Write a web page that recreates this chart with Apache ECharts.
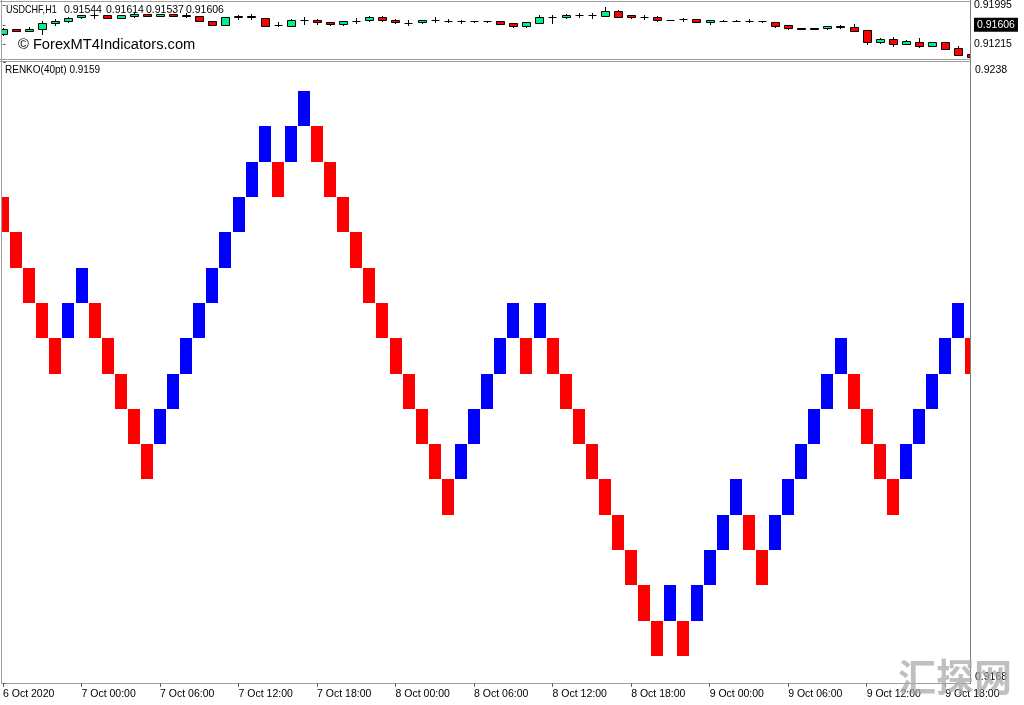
<!DOCTYPE html>
<html><head><meta charset="utf-8">
<script src="https://cdn.jsdelivr.net/npm/echarts@6/dist/echarts.min.js"></script>
<style>html,body{margin:0;padding:0;background:#fff}#c{width:1024px;height:705px}</style>
</head><body><div id="c"></div>
<script>
// ---- data ----
const symbolTitle = 'USDCHF,H1';
const titleOHLC = ['0.91544', '0.91614', '0.91537', '0.91606'];
const indicatorTitle = 'RENKO(40pt) 0.9159';
const copyrightText = '\u00A9 ForexMT4Indicators.com';
const watermarkText = '\u6C47\u63A2\u7F51';

const tickBars = [0, 6, 12, 18, 24, 30, 36, 42, 48, 54, 60, 66, 72];
const tickLabels = ['6 Oct 2020', '7 Oct 00:00', '7 Oct 06:00', '7 Oct 12:00', '7 Oct 18:00',
  '8 Oct 00:00', '8 Oct 06:00', '8 Oct 12:00', '8 Oct 18:00', '9 Oct 00:00',
  '9 Oct 06:00', '9 Oct 12:00', '9 Oct 18:00'];

const priceLabels = [0.91995, 0.91215];
const lastPrice = 0.91606;
const renkoLabels = [0.9238, 0.9168];
const brickSize = 0.0004;

const candleOpen = [0.91413,0.91512,0.91487,0.91526,0.91637,0.91677,0.91765,0.91796,0.91796,0.91751,
  0.91784,0.91824,0.91790,0.91824,0.91810,0.91777,0.91677,0.91612,0.91757,0.91790,
  0.91745,0.91612,0.91592,0.91705,0.91705,0.91665,0.91625,0.91691,0.91705,0.91771,
  0.91705,0.91651,0.91665,0.91705,0.91691,0.91677,0.91677,0.91677,0.91677,0.91637,
  0.91586,0.91651,0.91771,0.91757,0.91810,0.91810,0.91784,0.91876,0.91796,0.91771,
  0.91771,0.91705,0.91717,0.91717,0.91665,0.91691,0.91691,0.91691,0.91677,0.91665,
  0.91598,0.91532,0.91532,0.91532,0.91572,0.91558,0.91493,0.91254,0.91320,0.91228,
  0.91268,0.91189,0.91254,0.91135,0.91016];
const candleClose = [0.91522,0.91487,0.91526,0.91651,0.91677,0.91745,0.91796,0.91794,0.91751,0.91804,
  0.91824,0.91790,0.91824,0.91784,0.91777,0.91691,0.91606,0.91757,0.91784,0.91757,
  0.91592,0.91608,0.91711,0.91703,0.91665,0.91625,0.91677,0.91689,0.91771,0.91705,
  0.91665,0.91649,0.91705,0.91703,0.91689,0.91675,0.91675,0.91675,0.91625,0.91586,
  0.91665,0.91771,0.91769,0.91810,0.91808,0.91808,0.91876,0.91771,0.91757,0.91769,
  0.91705,0.91703,0.91715,0.91665,0.91705,0.91689,0.91689,0.91689,0.91675,0.91586,
  0.91532,0.91530,0.91530,0.91572,0.91570,0.91479,0.91254,0.91320,0.91215,0.91280,
  0.91175,0.91254,0.91121,0.91002,0.90963];
const candleLow = [0.91393,0.91473,0.91479,0.91427,0.91612,0.91657,0.91745,0.91745,0.91745,0.91745,
  0.91771,0.91784,0.91784,0.91777,0.91765,0.91685,0.91598,0.91606,0.91717,0.91725,
  0.91572,0.91572,0.91572,0.91625,0.91625,0.91612,0.91612,0.91637,0.91677,0.91691,
  0.91651,0.91598,0.91651,0.91665,0.91665,0.91651,0.91671,0.91671,0.91618,0.91558,
  0.91558,0.91645,0.91651,0.91745,0.91757,0.91745,0.91777,0.91765,0.91745,0.91717,
  0.91691,0.91697,0.91691,0.91657,0.91625,0.91685,0.91685,0.91665,0.91671,0.91558,
  0.91526,0.91526,0.91526,0.91526,0.91532,0.91473,0.91228,0.91240,0.91189,0.91215,
  0.91161,0.91169,0.91109,0.90990,0.90951];
const candleHigh = [0.91532,0.91522,0.91562,0.91677,0.91725,0.91757,0.91810,0.91844,0.91804,0.91810,
  0.91856,0.91830,0.91830,0.91830,0.91836,0.91784,0.91685,0.91765,0.91810,0.91824,
  0.91751,0.91671,0.91725,0.91771,0.91731,0.91671,0.91685,0.91745,0.91790,0.91777,
  0.91717,0.91705,0.91711,0.91757,0.91725,0.91705,0.91683,0.91683,0.91685,0.91651,
  0.91671,0.91796,0.91810,0.91824,0.91850,0.91850,0.91970,0.91904,0.91810,0.91810,
  0.91784,0.91711,0.91745,0.91725,0.91711,0.91697,0.91697,0.91725,0.91683,0.91671,
  0.91606,0.91538,0.91538,0.91578,0.91612,0.91625,0.91499,0.91334,0.91360,0.91294,
  0.91348,0.91260,0.91260,0.91175,0.91056];

const renkoOpen = [0.9223,0.9219,0.9215,0.9211,0.9207,0.9207,0.9211,0.9211,0.9207,0.9203,
  0.9199,0.9195,0.9195,0.9199,0.9203,0.9207,0.9211,0.9215,0.9219,0.9223,
  0.9227,0.9227,0.9227,0.9231,0.9231,0.9227,0.9223,0.9219,0.9215,0.9211,
  0.9207,0.9203,0.9199,0.9195,0.9191,0.9191,0.9195,0.9199,0.9203,0.9207,
  0.9207,0.9207,0.9207,0.9203,0.9199,0.9195,0.9191,0.9187,0.9183,0.9179,
  0.9175,0.9175,0.9175,0.9175,0.9179,0.9183,0.9187,0.9187,0.9183,0.9183,
  0.9187,0.9191,0.9195,0.9199,0.9203,0.9203,0.9199,0.9195,0.9191,0.9191,
  0.9195,0.9199,0.9203,0.9207,0.9207];
const renkoClose = [0.9219,0.9215,0.9211,0.9207,0.9203,0.9211,0.9215,0.9207,0.9203,0.9199,
  0.9195,0.9191,0.9199,0.9203,0.9207,0.9211,0.9215,0.9219,0.9223,0.9227,
  0.9231,0.9223,0.9231,0.9235,0.9227,0.9223,0.9219,0.9215,0.9211,0.9207,
  0.9203,0.9199,0.9195,0.9191,0.9187,0.9195,0.9199,0.9203,0.9207,0.9211,
  0.9203,0.9211,0.9203,0.9199,0.9195,0.9191,0.9187,0.9183,0.9179,0.9175,
  0.9171,0.9179,0.9171,0.9179,0.9183,0.9187,0.9191,0.9183,0.9179,0.9187,
  0.9191,0.9195,0.9199,0.9203,0.9207,0.9199,0.9195,0.9191,0.9187,0.9195,
  0.9199,0.9203,0.9207,0.9211,0.9203];

// ---- layout ----
const FONT = 'Liberation Sans, Arial, sans-serif';
const barStep = 13.09, firstCenter = 2.7;
const plotL = 2, plotR = 970;
const xMin = (plotL - firstCenter) / barStep;
const xMax = (plotR - firstCenter) / barStep;
const topT = 2, topB = 59, renT = 62, renB = 683;
const topPxPerPrice = 1 / 0.0001985;
const topRef = 0.91995, topRefY = 4.7;
const topMax = topRef + (topRefY - topT) / topPxPerPrice;
const topMin = topRef - (topB - topRefY) / topPxPerPrice;
const renPxPerPrice = 35.31 / brickSize;
const renRef = 0.9171, renRefY = 656;
const renMax = renRef + (renRefY - renT) / renPxPerPrice;
const renMin = renRef - (renB - renRefY) / renPxPerPrice;

const chart = echarts.init(document.getElementById('c'), null, {renderer: 'canvas'});
const GRAY = '#a0a0a0';

function candleItem(params, api) {
  const i = api.value(0), o = api.value(1), c = api.value(2), lo = api.value(3), hi = api.value(4);
  const ph = api.coord([i, hi]), pl = api.coord([i, lo]);
  const po = api.coord([i, o]), pc = api.coord([i, c]);
  const cx = Math.round(ph[0]) + 0.5;
  const top = Math.round(Math.min(po[1], pc[1])) + 0.5;
  const bot = Math.round(Math.max(po[1], pc[1])) + 0.5;
  const w = 7;
  const children = [{
    type: 'line', shape: {x1: cx, y1: Math.round(ph[1]), x2: cx, y2: Math.round(pl[1]) + 1},
    style: {stroke: '#000', lineWidth: 1}
  }];
  if (bot - top < 1) {
    children.push({type: 'line', shape: {x1: cx - 4, y1: top, x2: cx + 4, y2: top}, style: {stroke: '#000', lineWidth: 1}});
  } else {
    children.push({type: 'rect', shape: {x: cx - w / 2 - 0.5, y: top, width: w + 1, height: bot - top},
      style: {fill: c >= o ? '#00F08C' : '#FF0000', stroke: '#000', lineWidth: 1}});
  }
  return {type: 'group', children};
}

function brickItem(params, api) {
  const i = api.value(0), o = api.value(1), c = api.value(2);
  const p1 = api.coord([i, Math.max(o, c)]), p0 = api.coord([i, Math.min(o, c)]);
  const w = 12;
  const x = Math.round(p1[0] - w / 2);
  const y = Math.round(p1[1]);
  return {type: 'rect', shape: {x: x, y: y, width: w, height: Math.round(p0[1]) - y},
    style: {fill: c > o ? '#0000FF' : '#FF0000'}};
}

const candleData = candleOpen.map((o, i) => [i, o, candleClose[i], candleLow[i], candleHigh[i]]);
const renkoData = renkoOpen.map((o, i) => [i, o, renkoClose[i]]);

const labelTopY = renMax - 8 / renPxPerPrice;
const labelBotY = renMin + 6 / renPxPerPrice;

const option = {
  animation: false,
  backgroundColor: '#fff',
  grid: [
    {left: plotL, top: topT, width: plotR - plotL, height: topB - topT},
    {left: plotL, top: renT, width: plotR - plotL, height: renB - renT}
  ],
  xAxis: [
    {type: 'value', gridIndex: 0, min: xMin, max: xMax, show: false},
    {type: 'value', gridIndex: 1, min: xMin, max: xMax,
      axisLine: {show: true, lineStyle: {color: GRAY, width: 1}},
      splitLine: {show: false},
      axisTick: {show: true, customValues: tickBars, length: 4, lineStyle: {color: '#606060'}},
      axisLabel: {show: true, customValues: tickBars, align: 'left', margin: 6,
        color: '#000', fontFamily: FONT, fontSize: 10.5,
        formatter: v => tickLabels[tickBars.indexOf(Math.round(v))] || ''}}
  ],
  yAxis: [
    {type: 'value', gridIndex: 0, position: 'right', min: topMin, max: topMax, scale: true,
      axisLine: {show: false}, splitLine: {show: false},
      axisTick: {show: true, customValues: [priceLabels[0], lastPrice, priceLabels[1]], length: 3, lineStyle: {color: '#606060'}},
      axisLabel: {show: true, customValues: [priceLabels[0], lastPrice, priceLabels[1]], margin: 4,
        color: '#000', fontFamily: FONT, fontSize: 10.5,
        formatter: v => Math.abs(v - lastPrice) < 1e-7 ? '{cur|' + lastPrice.toFixed(5) + '}' : v.toFixed(5),
        rich: {cur: {backgroundColor: '#000', color: '#fff', fontFamily: FONT, fontSize: 10.5, padding: [2, 3, 1, 3]}}}},
    {type: 'value', gridIndex: 1, position: 'right', min: renMin, max: renMax, scale: true,
      axisLine: {show: false}, splitLine: {show: false},
      axisTick: {show: true, customValues: [renMax, renMin], length: 3, lineStyle: {color: '#606060'}},
      axisLabel: {show: true, customValues: [labelTopY, labelBotY], margin: 5,
        color: '#000', fontFamily: FONT, fontSize: 10.5,
        formatter: v => (v > (renMax + renMin) / 2 ? renkoLabels[0] : renkoLabels[1]).toFixed(4)}}
  ],
  series: [
    {type: 'custom', xAxisIndex: 0, yAxisIndex: 0, clip: true, renderItem: candleItem,
      encode: {x: 0, y: [1, 2, 3, 4]}, data: candleData, z: 3},
    {type: 'custom', xAxisIndex: 1, yAxisIndex: 1, clip: true, renderItem: brickItem,
      encode: {x: 0, y: [1, 2]}, data: renkoData, z: 3}
  ],
  graphic: [
    {type: 'line', shape: {x1: 0, y1: 1.5, x2: plotR, y2: 1.5}, style: {stroke: GRAY, lineWidth: 1}, z: 50},
    {type: 'line', shape: {x1: 1.5, y1: 0, x2: 1.5, y2: renB + 1}, style: {stroke: GRAY, lineWidth: 1}, z: 50},
    {type: 'line', shape: {x1: plotR + 0.5, y1: 0, x2: plotR + 0.5, y2: renB + 1}, style: {stroke: '#808080', lineWidth: 1}, z: 50},
    {type: 'line', shape: {x1: 0, y1: 59.5, x2: plotR, y2: 59.5}, style: {stroke: GRAY, lineWidth: 1}, z: 50},
    {type: 'line', shape: {x1: 0, y1: 61.5, x2: plotR, y2: 61.5}, style: {stroke: GRAY, lineWidth: 1}, z: 50},
    {type: 'text', left: 6, top: 5, z: 60, scaleX: 0.86, style: {text: symbolTitle, font: '10.5px ' + FONT, fill: '#000'}},
    {type: 'text', left: 64, top: 5, z: 60, style: {text: titleOHLC[0], font: '10.5px ' + FONT, fill: '#000'}},
    {type: 'text', left: 106, top: 5, z: 60, style: {text: titleOHLC[1], font: '10.5px ' + FONT, fill: '#000'}},
    {type: 'text', left: 146, top: 5, z: 60, style: {text: titleOHLC[2], font: '10.5px ' + FONT, fill: '#000'}},
    {type: 'text', left: 186, top: 5, z: 60, style: {text: titleOHLC[3], font: '10.5px ' + FONT, fill: '#000'}},
    {type: 'text', left: 18, top: 37, z: 60, style: {text: copyrightText, font: '14.7px ' + FONT, fill: '#000'}},
    {type: 'text', left: 5, top: 65, z: 60, style: {text: indicatorTitle, font: '10px ' + FONT, fill: '#000'}},
    {type: 'text', left: 898, top: 658, z: 70, style: {text: watermarkText, font: 'bold 38px "Noto Sans CJK SC"', fill: 'rgba(170,170,170,0.75)'}}
  ]
};
chart.setOption(option);
</script>
</body></html>
